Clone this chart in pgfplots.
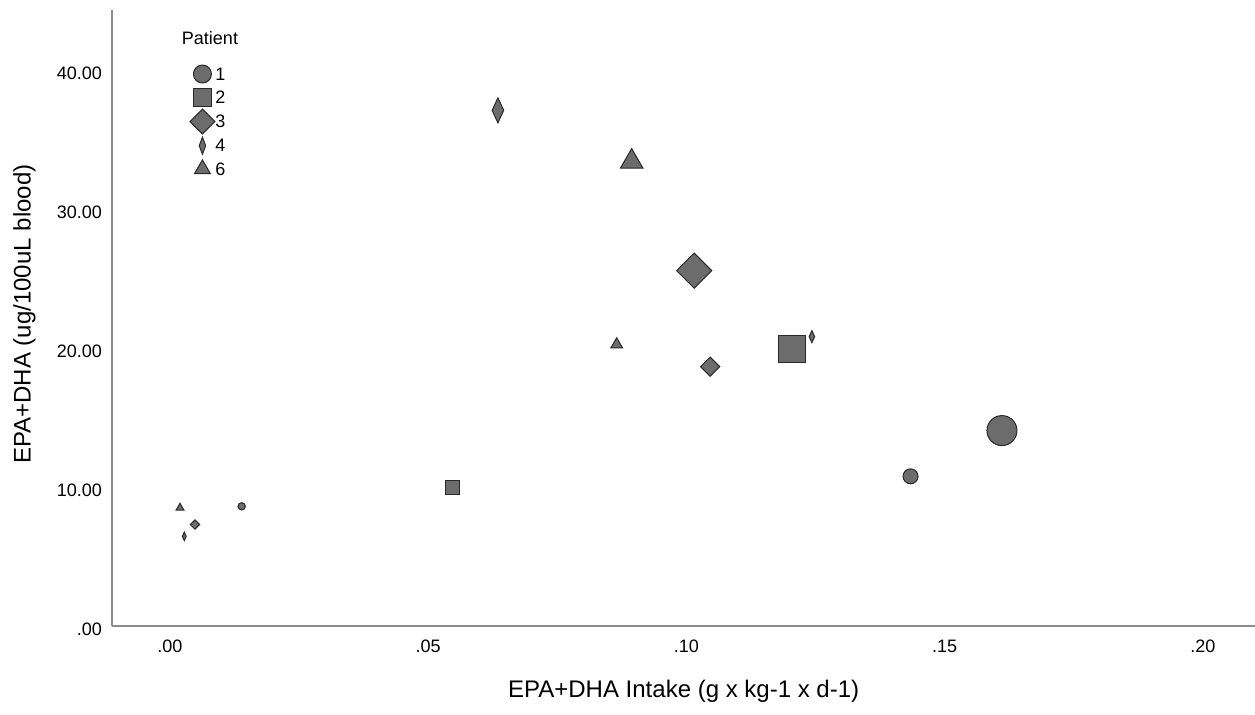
\documentclass[border=0pt]{standalone}
\usepackage{pgfplots}
\pgfplotsset{compat=1.18}
\usepackage{fontspec}
\setmainfont{Liberation Sans}
\definecolor{mfill}{RGB}{108,108,108}
\definecolor{medge}{RGB}{40,40,40}
\definecolor{axgray}{RGB}{140,140,140}
\newcommand\tf{\fontsize{9bp}{11bp}\selectfont}
\newcommand\lf{\fontsize{12bp}{14bp}\selectfont}
\tikzset{mk/.style={fill=mfill, draw=medge, line width=0.5bp, solid}}
\pgfplotsset{
  pt/.style={only marks, forget plot, mark options={mk}},
  lg/.style={only marks, mark options={mk}},
}
\begin{document}
\begin{tikzpicture}
\useasboundingbox (-56.15bp,-44.7bp) rectangle (571.35bp,312.8bp);
\begin{axis}[
  at={(0,0)}, anchor=south west,
  scale only axis, width=571.35bp, height=307.8bp,
  xmin=-0.01117, xmax=0.2101, ymin=0, ymax=44.29,
  axis x line=bottom, axis y line=left,
  axis line style={-, draw=axgray, line width=1bp},
  xtick={0,0.05,0.1,0.15,0.2}, xticklabels={.00,.05,.10,.15,.20},
  ytick={0,10,20,30,40}, yticklabels={.00,10.00,20.00,30.00,40.00},
  major tick length=0pt, tick style={draw=none},
  xticklabel style={font=\tf, anchor=north, inner sep=0pt, yshift=-7.2bp},
  yticklabel style={font=\tf, anchor=east, inner sep=0pt, xshift=-5bp, yshift=-2bp},
  xlabel={EPA+DHA Intake (g x kg-1 x d-1)},
  ylabel={EPA+DHA (ug/100uL blood)},
  xlabel style={font=\lf, at={(axis description cs:0.5,0)}, anchor=center, yshift=-32.6bp},
  ylabel style={font=\lf, at={(axis description cs:-0.0770,0.506)}, anchor=center},
  legend image code/.code={\path[draw=none,fill=none] (-4.5bp,-5.85bp) rectangle (4.5bp,5.85bp); \draw[#1] plot coordinates {(0bp,0bp)};},
  legend style={draw=none, fill=none, inner sep=0pt, outer sep=0pt, at={(axis description cs:0.0680,0.9150)}, anchor=north west, row sep=0pt, column sep=0.3bp, nodes={inner sep=0pt, font=\tf, text depth=0pt}},
  legend cell align=left,
]
% Patient 1 (circles)
\addplot[pt, mark=*, mark size=1.85bp] coordinates {(0.01388,8.58)};
\addplot[pt, mark=*, mark size=3.75bp] coordinates {(0.1434,10.74)};
\addplot[pt, mark=*, mark size=7.5bp] coordinates {(0.1611,14.03)};
% Patient 2 (squares)
\addplot[pt, mark=square*, mark size=3.5bp] coordinates {(0.0548,9.93)};
\addplot[pt, mark=square*, mark size=6.75bp] coordinates {(0.1205,19.89)};
% Patient 3 (diamonds)
\addplot[pt, mark=square*, mark size=1.65bp, mark options={mk, rotate=45}] coordinates {(0.00484,7.27)};
\addplot[pt, mark=square*, mark size=3.4bp, mark options={mk, rotate=45}] coordinates {(0.1046,18.63)};
\addplot[pt, mark=square*, mark size=6.2bp, mark options={mk, rotate=45}] coordinates {(0.1015,25.54)};
% Patient 4 (thin diamonds)
\addplot[pt, mark=diamond*, mark size=2.1bp, mark options={mk, xscale=0.62}] coordinates {(0.00277,6.42)};
\addplot[pt, mark=diamond*, mark size=3bp, mark options={mk, xscale=0.62}] coordinates {(0.1243,20.79)};
\addplot[pt, mark=diamond*, mark size=6.25bp, mark options={mk, xscale=0.62}] coordinates {(0.0635,37.07)};
% Patient 6 (triangles)
\addplot[pt, mark=triangle*, mark size=2.3bp] coordinates {(0.00194,8.47)};
\addplot[pt, mark=triangle*, mark size=3.4bp] coordinates {(0.0865,20.22)};
\addplot[pt, mark=triangle*, mark size=6.5bp] coordinates {(0.0894,33.38)};
% legend
\addlegendimage{lg, mark=*, mark size=4.5bp}
\addlegendentry{1}
\addlegendimage{lg, mark=square*, mark size=4.6bp}
\addlegendentry{2}
\addlegendimage{lg, mark=square*, mark size=4.4bp, mark options={mk, rotate=45}}
\addlegendentry{3}
\addlegendimage{lg, mark=diamond*, mark size=4.3bp, mark options={mk, xscale=0.5}}
\addlegendentry{4}
\addlegendimage{lg, mark=triangle*, mark size=4.6bp}
\addlegendentry{6}
\node[font=\tf, anchor=center] at (axis description cs:0.0855,0.9545) {Patient};
\end{axis}
\end{tikzpicture}
\end{document}
